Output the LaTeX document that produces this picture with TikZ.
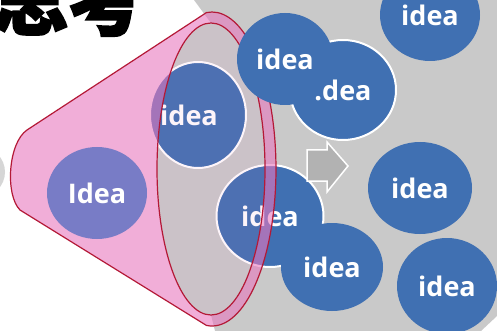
\documentclass[tikz,border=0pt]{standalone}
\usepackage{fontspec}
\setmainfont{Open Sans}
\newfontfamily\cjk{Noto Sans CJK SC}[BoldFeatures={FakeBold=2.5}]
\usetikzlibrary{shapes.geometric}
\definecolor{ideablue}{RGB}{64,112,178}
\definecolor{bggray}{RGB}{201,201,201}
\definecolor{blobgray}{RGB}{214,214,214}
\definecolor{conepink}{RGB}{232,120,190}
\definecolor{conered}{RGB}{180,25,55}
\definecolor{ideapurple}{RGB}{120,124,198}
\definecolor{arrowgray}{RGB}{178,178,178}
\tikzset{
  bubble/.style={ellipse, fill=ideablue, inner sep=0pt, text=white,
    font=\bfseries\fontsize{27}{27}\selectfont},
  rimmed/.style={draw=white, line width=2pt},
  lbl/.style={text=white, inner sep=0pt, font=\bfseries\fontsize{27}{27}\selectfont},
}
\begin{document}
\begin{tikzpicture}[x=1pt,y=-1pt]
\useasboundingbox (0,0) rectangle (497,331);
\clip (0,0) rectangle (497,331);
% background
\fill[white] (0,0) rectangle (497,331);
\fill[bggray] (194,0) -- (497,0) -- (497,316) -- (481,331) -- (215,331) -- (211,315) -- (211,23) -- cycle;
\fill[bggray] (211,169) ellipse [x radius=54, y radius=146];
\fill[blobgray] (-20,172) circle [radius=25];
% title
\node[anchor=base west, inner sep=0pt, font=\cjk\bfseries\fontsize{76}{76}\selectfont] (title) at (-8,29) {思考};
% circles under the cone
\node[bubble, minimum width=100pt, minimum height=92pt] (c5) at (430,15) {idea};
\node[bubble, minimum width=104pt, minimum height=92pt] (c6) at (420,188) {idea};
\node[bubble, minimum width=100pt, minimum height=96pt] (c9) at (447,286) {idea};
\node[bubble, rimmed, minimum width=107pt, minimum height=102pt] (c7) at (270,216) {idea};
\node[bubble, minimum width=102pt, minimum height=88pt] (c8) at (332,267) {idea};
\node[bubble, rimmed, minimum width=96pt, minimum height=106pt] (c1) at (198,115) {};
\node[lbl] (t1) at (189,115) {idea};
% arrow
\draw[fill=arrowgray, draw=white, line width=1.5pt] (307,150) -- (327,150) -- (327,142) -- (348,166) -- (327,192) -- (327,181) -- (307,181) -- cycle;
% cone
\def\conepath{(206.4,12.6) -- (27,130) .. controls (8,143) and (5,195) .. (20,210) -- (206.4,325.4) arc[start angle=95, end angle=-95, x radius=64, y radius=157] -- cycle}
\fill[conepink, opacity=0.6, even odd rule] \conepath (211,169) ellipse [x radius=54, y radius=146];
\fill[conepink, opacity=0.08] (211,169) ellipse [x radius=54, y radius=146];
\draw[conered, line width=1.2pt, line join=round] \conepath;
\draw[conered, line width=1.2pt] (211,169) ellipse [x radius=54, y radius=146];
% circles over the cone
\node[bubble, fill=ideapurple, minimum width=100pt, minimum height=92pt] (c2) at (97,193) {Idea};
\node[bubble, rimmed, minimum width=106pt, minimum height=100pt] (c4) at (343,90) {.dea};
\node[bubble, minimum width=96pt, minimum height=92pt] (c3) at (285,59) {idea};
\end{tikzpicture}
\end{document}
